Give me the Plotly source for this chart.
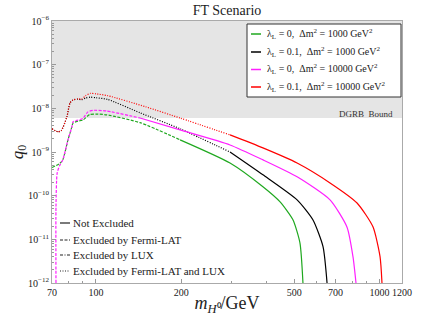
import plotly.graph_objects as go

# ---------------- data ----------------
m_red = [70, 73.5, 75.5, 79, 81, 83, 86.5, 89, 92, 95.5, 100, 110, 150, 198, 297, 388, 512, 669, 833, 948, 1004, 1020]
q_red = [3.4e-9, 2.9e-9, 3.1e-9, 6.4e-9, 1.33e-8, 1.56e-8, 1.65e-8, 1.62e-8, 1.95e-8, 2.2e-8, 2.15e-8, 1.95e-8, 1.08e-8, 6.0e-9,
         2.46e-9, 1.24e-9, 5.6e-10, 1.96e-10, 6.8e-11, 1.93e-11, 4e-12, 1e-12]

m_black = [70, 73.5, 75.5, 79, 81, 83, 86.5, 89, 92, 95.5, 100, 110, 143, 198, 297, 388, 512, 582, 632, 653]
q_black = [3.4e-9, 2.9e-9, 3.1e-9, 6.4e-9, 1.33e-8, 1.56e-8, 1.62e-8, 1.58e-8, 1.72e-8, 1.8e-8, 1.75e-8, 1.6e-8, 7.9e-9, 3.4e-9,
           1.0e-9, 3.0e-10, 8.0e-11, 2.8e-11, 6.8e-12, 1e-12]

m_mag = [72.3, 72.3, 73, 74.6, 76.4, 79.7, 82.3, 83, 86.5, 90, 93.7, 97.6, 109, 143, 198, 297, 388, 512, 669, 768, 806, 826]
q_mag = [1e-12, 5.5e-11, 3.3e-10, 5.0e-10, 6.6e-10, 1.9e-9, 3.8e-9, 4.9e-9, 5.4e-9, 5.9e-9, 8.3e-9, 9.0e-9, 8.7e-9, 6.0e-9, 3.2e-9,
         1.45e-9, 6.6e-10, 2.7e-10, 8.0e-11, 1.9e-11, 4e-12, 1e-12]

m_green = [70, 74.6, 76.4, 79.7, 82.3, 83, 86.5, 90, 95, 100, 109, 143, 198, 297, 388, 446, 495, 524, 537]
q_green = [4.4e-10, 5.5e-10, 6.6e-10, 1.9e-9, 3.8e-9, 4.6e-9, 5.1e-9, 5.4e-9, 7.2e-9, 7.4e-9, 7.1e-9, 4.7e-9, 1.9e-9,
           5.6e-10, 1.6e-10, 7.2e-11, 2.8e-11, 8.3e-12, 1e-12]

# mass where each curve switches from "excluded" style to solid
switch_mass = {"green": 198, "black": 297, "magenta": 143, "red": 297}
excl_style = {"green": "fermi", "black": "both", "magenta": "fermi", "red": "both"}

dgrb_bound = 6.0e-9

legend_labels = [
    "λ<sub>L</sub> = 0,  Δm<sup>2</sup> = 1000 GeV<sup>2</sup>",
    "λ<sub>L</sub> = 0.1,  Δm<sup>2</sup> = 1000 GeV<sup>2</sup>",
    "λ<sub>L</sub> = 0,  Δm<sup>2</sup> = 10000 GeV<sup>2</sup>",
    "λ<sub>L</sub> = 0.1,  Δm<sup>2</sup> = 10000 GeV<sup>2</sup>",
]
style_labels = ["Not Excluded", "Excluded by Fermi-LAT", "Excluded by LUX", "Excluded by Fermi-LAT and LUX"]
style_keys = ["none", "fermi", "lux", "both"]

x_ticks = [70, 100, 200, 500, 700, 1000, 1200]
x_minor = [80, 90, 300, 400, 600, 800, 900]
y_ticks = [1e-6, 1e-7, 1e-8, 1e-9, 1e-10, 1e-11, 1e-12]
y_ticktext = ["10<sup>−6</sup>", "10<sup>−7</sup>", "10<sup>−8</sup>", "10<sup>−9</sup>",
              "10<sup>−10</sup>", "10<sup>−11</sup>", "10<sup>−12</sup>"]
y_minor = [k * 10.0 ** e for e in range(-12, -6) for k in range(2, 10)]

DASH = {"none": "solid", "fermi": "3px,1.5px", "lux": "3px,1.5px,1px,1.5px", "both": "1px,1.5px"}
colors = {"green": "#1fa81f", "black": "#000000", "magenta": "#ff1fff", "red": "#ff0000"}
curves = [("green", m_green, q_green), ("black", m_black, q_black),
          ("magenta", m_mag, q_mag), ("red", m_red, q_red)]

FONT = "Liberation Serif"
W, H = 421, 316
L, R, T, B = 52, 19, 21, 33
PW, PH = W - L - R, H - T - B


def px(x):
    return (x - L) / PW


def py(y):
    return 1 - (y - T) / PH


fig = go.Figure()

# DGRB excluded region
fig.add_trace(go.Scatter(x=[70, 1200, 1200, 70], y=[dgrb_bound, dgrb_bound, 1e-6, 1e-6],
                         fill="toself", fillcolor="#e5e5e5", line=dict(width=0),
                         mode="lines", hoverinfo="skip", showlegend=False))

for name, ms, qs in curves:
    s = switch_mass[name]
    i = ms.index(s)
    fig.add_trace(go.Scatter(x=ms[:i + 1], y=qs[:i + 1], mode="lines",
                             line=dict(color=colors[name], width=1.2, dash=DASH[excl_style[name]],
                                       shape="spline", smoothing=0.6),
                             showlegend=False))
    fig.add_trace(go.Scatter(x=ms[i:], y=qs[i:], mode="lines",
                             line=dict(color=colors[name], width=1.2, shape="spline", smoothing=0.6),
                             showlegend=False))

shapes = []
annotations = []

# colour legend box
shapes.append(dict(type="rect", xref="paper", yref="paper", x0=px(247), x1=px(401), y0=py(97), y1=py(24),
                   fillcolor="white", line=dict(color="#333333", width=1)))
for k, (name, _, _) in enumerate(curves):
    yy = [34, 52, 69.5, 87][k]
    shapes.append(dict(type="line", xref="paper", yref="paper", x0=px(251), x1=px(261), y0=py(yy), y1=py(yy),
                       line=dict(color=colors[name], width=1.5)))
    annotations.append(dict(xref="paper", yref="paper", x=px(265), y=py(yy), xanchor="left", yanchor="middle",
                            text=legend_labels[k], showarrow=False, font=dict(family=FONT, size=10, color="#222")))

# line-style legend
for k in range(4):
    yy = [223, 240, 255, 271][k]
    shapes.append(dict(type="line", xref="paper", yref="paper", x0=px(60), x1=px(70), y0=py(yy), y1=py(yy),
                       line=dict(color="#222", width=1.2, dash=DASH[style_keys[k]])))
    annotations.append(dict(xref="paper", yref="paper", x=px(71), y=py(yy), xanchor="left", yanchor="middle",
                            text=style_labels[k], showarrow=False, font=dict(family=FONT, size=11, color="#222")))

annotations.append(dict(xref="paper", yref="paper", x=px(395), y=py(114), xanchor="right", yanchor="middle",
                        text="DGRB  Bound", showarrow=False, font=dict(family=FONT, size=9, color="#333")))

fig.update_layout(
    width=W, height=H, margin=dict(l=L, r=R, t=T, b=B, autoexpand=False),
    paper_bgcolor="white", plot_bgcolor="white",
    font=dict(family=FONT, size=10, color="#222"),
    title=dict(text="FT Scenario", x=px(227), xref="paper", y=1 - 10 / H, yanchor="middle",
               font=dict(family=FONT, size=14, color="#222")),
    shapes=shapes, annotations=annotations, showlegend=False,
)

fig.update_xaxes(type="log", range=[1.8450980, 3.0791812], tickvals=x_ticks, ticktext=[str(v) for v in x_ticks],
                 ticks="inside", ticklen=4, tickcolor="#999", showline=True, linecolor="#aaa", linewidth=1,
                 mirror=True, showgrid=False, zeroline=False, automargin=False,
                 minor=dict(tickvals=x_minor, ticks="inside", ticklen=2, tickcolor="#999", showgrid=False),
                 title=dict(text="<i>m</i><sub><i>H</i>⁰</sub>/GeV", font=dict(family=FONT, size=18, color="#222"), standoff=0),
                 tickfont=dict(family=FONT, size=10))
fig.update_yaxes(type="log", range=[-12, -6], tickvals=y_ticks, ticktext=y_ticktext,
                 ticks="inside", ticklen=4, tickcolor="#999", showline=True, linecolor="#aaa", linewidth=1,
                 mirror=True, showgrid=False, zeroline=False, automargin=False,
                 minor=dict(tickvals=y_minor, ticks="inside", ticklen=2, tickcolor="#999", showgrid=False),
                 title=dict(text="<i>q</i><sub>0</sub>", font=dict(family=FONT, size=17, color="#222"), standoff=0),
                 tickfont=dict(family=FONT, size=10))

fig.write_html("out.html", config={"displayModeBar": False},
               post_script="document.body.style.margin='0px';document.body.style.overflow='hidden';")
